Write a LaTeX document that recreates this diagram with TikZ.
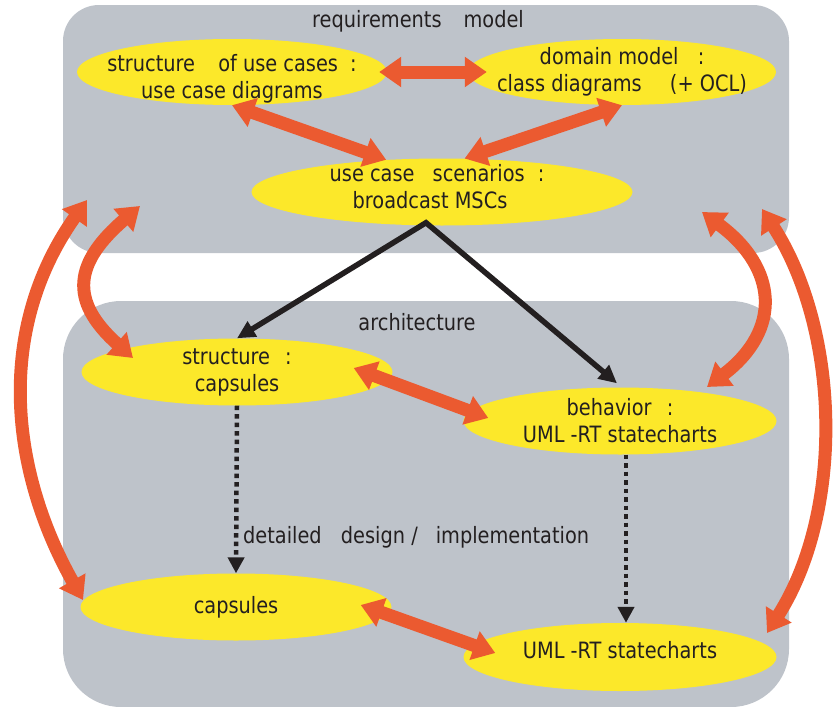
\documentclass[tikz,border=0pt]{standalone}
\usepackage{fontspec}
\setmainfont[FakeStretch=0.86]{DejaVu Sans}
\usepackage{tikz}
\usetikzlibrary{shapes,arrows.meta,positioning,calc}

\definecolor{boxgrey}{RGB}{190,195,202}
\definecolor{ovalyellow}{RGB}{252,232,42}
\definecolor{linkorange}{RGB}{235,90,48}
\definecolor{textdark}{RGB}{35,31,32}

\tikzset{
  layer/.style={fill=boxgrey, inner sep=0pt, minimum width=726pt},
  oval/.style={ellipse, fill=ovalyellow, inner xsep=-90pt, inner ysep=-30pt, align=center, text=textdark, font=\fontsize{22.5}{27}\selectfont},
  title/.style={text=textdark, inner sep=0pt, font=\fontsize{22.5}{27}\selectfont},
  biglink/.style={draw=linkorange, line width=13pt, <->, >={Triangle[length=22pt,width=29pt]}},
  flow/.style={draw=textdark, line width=5.5pt, >={Triangle[length=18pt,width=17pt]}},
  refine/.style={draw=textdark, line width=4.5pt, dash pattern=on 4.5pt off 4pt, ->, >={Triangle[length=16pt,width=16pt]}}
}

\begin{document}
\begin{tikzpicture}[x=1pt,y=-1pt]
    \useasboundingbox (0,0) rectangle (836,707);

    % Layers
    \node[layer, minimum height=248pt, rounded corners=36pt] (req) at (426,129) {};
    \node[layer, minimum height=406pt, rounded corners=58pt] (arch) at (426,504) {};
    \node[title, anchor=base] (reqtitle) at (418,27.5) {requirements\hspace{22pt}model};
    \node[title, anchor=base] (archtitle) at (417,330) {architecture};

    % Requirements model
    \node[oval, minimum width=310pt, minimum height=66pt] (sc) at (232,72) {\rule{0pt}{31pt}structure\hspace{17pt} of use cases\hspace{6pt} :\\use case diagrams};
    \node[oval, minimum width=308pt, minimum height=66pt] (dm) at (622,72) {domain model\hspace{13pt} :\\class diagrams\hspace{22pt} (+ OCL)};
    \node[oval, minimum width=381pt, minimum height=67pt] (scn) at (442,192) {use case\hspace{12pt} scenarios\hspace{7pt} :\hspace*{10pt}\\broadcast MSCs\hspace*{24pt}\rule[-12pt]{0pt}{0pt}};

    % Architecture
    \node[oval, minimum width=311pt, minimum height=67pt] (st) at (237,372) {structure\hspace{9pt} :\\capsules};
    \node[oval, minimum width=313pt, minimum height=67pt] (bh) at (620,421) {behavior\hspace{9pt} :\\UML -RT statecharts};
    \node[oval, minimum width=311pt, minimum height=67pt] (cp) at (236,607) {capsules};
    \node[oval, minimum width=313pt, minimum height=68pt] (sc2) at (620,657) {UML -RT statecharts\rule[-14pt]{0pt}{0pt}};

    % Links
    \draw[biglink] ($(sc.east)+(-8,0)$) -- ($(dm.west)+(19,0)$);
    \draw[biglink] (sc.south) -- (scn.150);
    \draw[biglink] (dm.south) -- (scn.56);
    \draw[biglink] ($(st.east)+(-39,-4)$) -- ($(bh.west)+(25,-3)$);
    \draw[biglink] ($(cp.east)+(-31,-2)$) -- ($(sc2.west)+(32,-4)$);

    \coordinate (reqa) at (87,200);
    \coordinate (reqb) at (140,206);
    \coordinate (reqc) at (702,212);
    \coordinate (reqd) at (762,209);
    \draw[biglink] (reqa) .. controls (-5,330) and (10,470) .. ($(cp.center)+(-153,-7)$);
    \draw[biglink] (reqb) .. controls (75,262) and (68,300) .. ($(st.center)+(-104,-14)$);
    \draw[biglink] (reqc) .. controls (778,268) and (782,330) .. ($(bh.center)+(87,-34)$);
    \draw[biglink] (reqd) .. controls (840,330) and (845,510) .. ($(sc2.center)+(147,-24)$);

    % Derivation
    \coordinate (fork) at ($(scn.south)+(-16,-3)$);
    \draw[flow, <->] (st.north) -- (fork) -- ($(bh.north)+(-3,-4)$);
    \draw[refine] (st.south) -- (cp.north);
    \draw[refine] ($(bh.south)+(6,0)$) -- ($(sc2.north)+(6,0)$);
    \node[title, anchor=west] (impl) at ($(cp.north)+(7,-36)$) {detailed\hspace{13pt} design /\hspace{18pt}implementation};
\end{tikzpicture}
\end{document}
